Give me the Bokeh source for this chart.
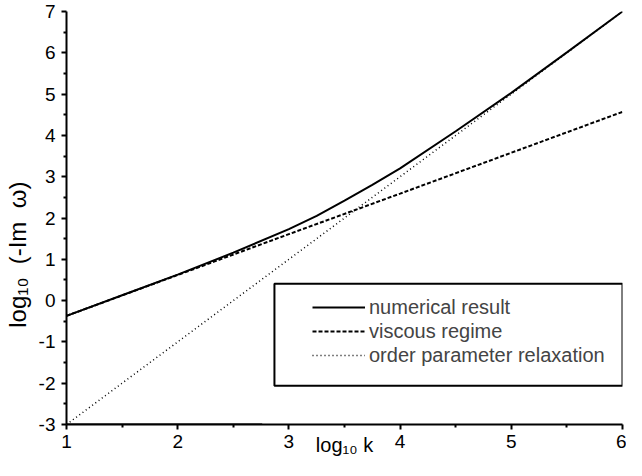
from bokeh.plotting import figure
from bokeh.models import (Range1d, FixedTicker, Legend, LegendItem, BoxAnnotation)
from bokeh.embed import file_html
from bokeh.resources import INLINE

# ---- data ----
log_k = [1.0, 1.5, 2.0, 2.5, 3.0, 3.25, 3.5, 3.75, 4.0, 4.5, 5.0, 5.5, 6.0]
numerical = [-0.37, 0.13, 0.63, 1.16, 1.73, 2.05, 2.42, 2.80, 3.20, 4.10, 5.03, 6.01, 7.0]

visc_k = [1, 2, 3, 4, 5, 6]
viscous = [-0.37, 0.62, 1.61, 2.59, 3.58, 4.57]

relax_k = [1, 2, 3, 4, 5, 6]
relaxation = [-3, -1, 1, 3, 5, 7]

trace_k = [1.0, 2.76]
trace_y = [-3.0, -3.0]

x_ticks = [1, 2, 3, 4, 5, 6]
x_tick_labels = ["1", "2", "3", "4", "5", "6"]
x_minor = [1.5, 2.5, 3.5, 4.5, 5.5]
y_ticks = [-3, -2, -1, 0, 1, 2, 3, 4, 5, 6, 7]
y_tick_labels = ["-3", "-2", "-1", "0", "1", "2", "3", "4", "5", "6", "7"]
y_minor = [-2.5, -1.5, -0.5, 0.5, 1.5, 2.5, 3.5, 4.5, 5.5, 6.5]

legend_labels = ["numerical result", "viscous regime", "order parameter relaxation"]

FONT = "Liberation Sans"
NB = "\u00a0"
x_title = "log\u2081\u2080 k"
y_title = "log\u2081\u2080" + NB * 2 + "(-Im" + NB * 2 + "\u03c9)"

p = figure(width=626, height=460, output_backend="svg", toolbar_location=None,
           x_range=Range1d(1, 6), y_range=Range1d(-3, 7),
           min_border_left=66, min_border_right=4, min_border_top=11,
           min_border_bottom=36)
p.outline_line_color = None
p.grid.visible = False
p.background_fill_color = "white"
p.border_fill_color = "white"

for ax, ticks, minor, labels in ((p.xaxis[0], x_ticks, x_minor, x_tick_labels),
                                 (p.yaxis[0], y_ticks, y_minor, y_tick_labels)):
    ax.ticker = FixedTicker(ticks=ticks, minor_ticks=minor)
    ax.major_label_overrides = {t: l for t, l in zip(ticks, labels)}
    ax.axis_line_width = 2
    ax.axis_line_color = "black"
    ax.major_tick_line_width = 2
    ax.minor_tick_line_width = 2
    ax.major_tick_in = 0
    ax.major_tick_out = 5
    ax.minor_tick_in = 0
    ax.minor_tick_out = 3
    ax.major_label_text_font = FONT
    ax.major_label_text_font_size = "19px"
    ax.major_label_text_color = "black"
    ax.axis_label_text_font = FONT
    ax.axis_label_text_font_style = "normal"
    ax.axis_label_text_color = "black"

p.xaxis.major_label_standoff = 5
p.yaxis.major_label_standoff = 6

p.xaxis.axis_label = x_title
p.xaxis.axis_label_text_font_size = "20px"
p.xaxis.axis_label_standoff = -17

# shift the rotated title downward (toward its start) with trailing padding
p.yaxis.axis_label = y_title + NB * 11
p.yaxis.axis_label_text_font_size = "24px"
p.yaxis.axis_label_standoff = 5

# legend frame
box = BoxAnnotation(left=2.87, right=6.0, top=0.41, bottom=-2.06,
                    fill_color="white", fill_alpha=1.0,
                    line_color="black", line_alpha=1.0, line_width=2)
p.add_layout(box)

p.line(trace_k, trace_y, line_color="#777777", line_width=3)

r1 = p.line(log_k, numerical, line_color="black", line_width=2)
r2 = p.line(visc_k, viscous, line_color="black", line_width=2, line_dash="4 2")
r3 = p.line(relax_k, relaxation, line_color="black", line_width=1.5, line_dash="1 3")

legend = Legend(items=[LegendItem(label=legend_labels[0], renderers=[r1]),
                       LegendItem(label=legend_labels[1], renderers=[r2]),
                       LegendItem(label=legend_labels[2], renderers=[r3])],
                location=(246, 57), padding=0, margin=0, spacing=0,
                glyph_width=53, glyph_height=20, label_height=24,
                label_standoff=4, border_line_color=None,
                background_fill_alpha=0.0,
                label_text_font=FONT, label_text_font_size="20px")
p.add_layout(legend)

open("out.html", "w").write(file_html(p, INLINE))
